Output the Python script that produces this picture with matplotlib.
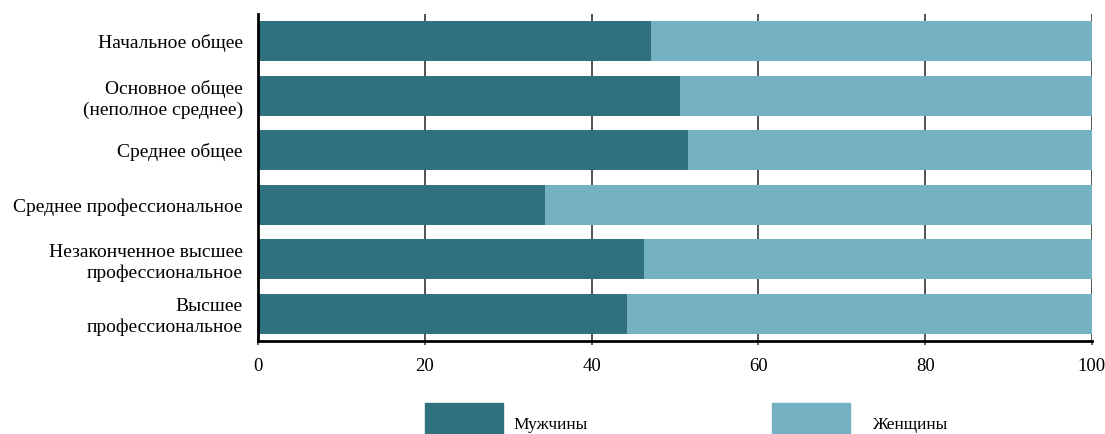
import matplotlib.pyplot as plt
from matplotlib.patches import Rectangle

plt.rcParams['font.family'] = ['Liberation Serif', 'DejaVu Serif']

categories = ['Начальное общее', 'Основное общее\n(неполное среднее)', 'Среднее общее',
              'Среднее профессиональное', 'Незаконченное высшее\nпрофессиональное',
              'Высшее\nпрофессиональное']
men = [47.1, 50.6, 51.6, 34.4, 46.3, 44.2]
women = [100 - m for m in men]

c_men = '#2f717f'
c_women = '#74b1c3'

fig = plt.figure(figsize=(11.05, 4.34), dpi=100)
ax = fig.add_axes([0.2335, 0.2143, 0.7547, 0.7534])

y = range(len(categories))
ax.barh(y, men, height=0.73, color=c_men, zorder=2)
ax.barh(y, women, left=men, height=0.73, color=c_women, zorder=2)

ax.set_ylim(5.5, -0.5)
ax.set_xlim(0, 100)
ax.set_xticks([0, 20, 40, 60, 80, 100])
ax.set_yticks(list(y))
ax.set_yticklabels(categories, fontsize=14, multialignment='right', linespacing=1.25)
ax.tick_params(axis='y', length=0, pad=11)
ax.tick_params(axis='x', length=3, width=1.2, color='#444444', labelsize=13.5, pad=9)
ax.xaxis.grid(True, color='#444444', linewidth=1.3, zorder=0)
ax.set_axisbelow(True)
for s in ['top', 'right']:
    ax.spines[s].set_visible(False)
ax.spines['left'].set_linewidth(2)
ax.spines['bottom'].set_linewidth(2)

# legend drawn by hand
fig.add_artist(Rectangle((425 / 1105, 0), 78 / 1105, 31 / 434, transform=fig.transFigure,
                         color=c_men))
fig.add_artist(Rectangle((772 / 1105, 0), 78 / 1105, 31 / 434, transform=fig.transFigure,
                         color=c_women))
fig.text(513 / 1105, 9 / 434, 'Мужчины', fontsize=12.5, va='center')
fig.text(873 / 1105, 9 / 434, 'Женщины', fontsize=12.5, va='center')

fig.savefig('out.png', dpi=100)
